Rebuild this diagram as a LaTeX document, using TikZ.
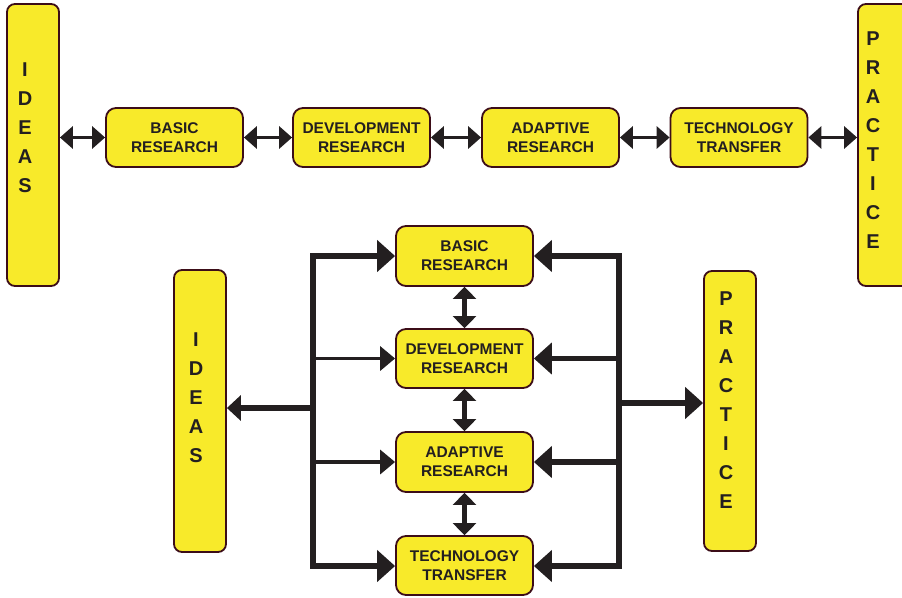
\documentclass[tikz,border=0pt]{standalone}
\usepackage{fontspec}
\setmainfont{Liberation Sans}
\usetikzlibrary{arrows.meta}
\definecolor{boxfill}{HTML}{F8EA2A}
\definecolor{boxline}{HTML}{3C0D18}
\definecolor{arr}{HTML}{231F20}
\tikzset{
  rbox/.style={rectangle, rounded corners=10pt, draw=boxline, line width=1.8pt, fill=boxfill,
    minimum width=137pt, minimum height=59pt, inner sep=0pt, align=center,
    font=\bfseries\fontsize{15.5}{19}\selectfont, text=arr},
  bar/.style={rectangle, rounded corners=8pt, draw=boxline, line width=1.8pt, fill=boxfill,
    minimum width=52pt, minimum height=282pt, inner sep=0pt},
  vtxt/.style={inner sep=0pt, align=center, font=\bfseries\fontsize{20}{29}\selectfont, text=arr},
  hdbl/.style={draw=arr, line width=3.5pt, {Triangle[length=13pt,width=22pt]}-{Triangle[length=13pt,width=22pt]}},
  vdbl/.style={draw=arr, line width=4.5pt, {Triangle[length=12pt,width=23pt]}-{Triangle[length=12pt,width=23pt]}},
  trunk/.style={draw=arr, line width=6pt, line cap=rect},
  bigbranch/.style={draw=arr, line width=5.5pt, -{Triangle[length=18pt,width=31pt]}},
  smallbranch/.style={draw=arr, line width=3.5pt, -{Triangle[length=15pt,width=24pt]}},
  midbranch/.style={draw=arr, line width=6pt, -{Triangle[length=14pt,width=25pt]}}
}
\begin{document}
\begin{tikzpicture}[x=1pt,y=-1pt]
\useasboundingbox[fill=white] (0,0) rectangle (902,597);
% ---- top row ----
\node[bar] (ideasT) at (33,145) {};
\node[vtxt] (ideasTt) at (25,128) {I\\D\\E\\A\\S};
\node[bar] (pracT) at (884,145) {};
\node[vtxt] (pracTt) at (873,140) {P\\R\\A\\C\\T\\I\\C\\E};
\node[rbox] (tB) at (174.5,137.5) {BASIC\\RESEARCH};
\node[rbox] (tD) at (361.5,137.5) {DEVELOPMENT\\RESEARCH};
\node[rbox] (tA) at (550.5,137.5) {ADAPTIVE\\RESEARCH};
\node[rbox] (tT) at (739,137.5) {TECHNOLOGY\\TRANSFER};
\draw[hdbl] (ideasT.east |- tB.west) -- (tB.west);
\draw[hdbl] (tB.east) -- (tD.west);
\draw[hdbl] (tD.east) -- (tA.west);
\draw[hdbl] (tA.east) -- (tT.west);
\draw[hdbl] (tT.east) -- (pracT.west |- tT.east);
% ---- bottom part ----
\node[bar] (ideasB) at (200,411) {};
\node[vtxt] (ideasBt) at (196,398) {I\\D\\E\\A\\S};
\node[bar, minimum height=280pt] (pracB) at (730,411) {};
\node[vtxt] (pracBt) at (726,400) {P\\R\\A\\C\\T\\I\\C\\E};
\node[rbox, minimum height=60pt] (bB) at (464.5,256) {BASIC\\RESEARCH};
\node[rbox] (bD) at (464.5,358.5) {DEVELOPMENT\\RESEARCH};
\node[rbox, minimum height=60pt] (bA) at (464.5,462) {ADAPTIVE\\RESEARCH};
\node[rbox] (bT) at (464.5,565.5) {TECHNOLOGY\\TRANSFER};
\draw[vdbl] (bB.south) -- (bD.north);
\draw[vdbl] (bD.south) -- (bA.north);
\draw[vdbl] (bA.south) -- (bT.north);
% left trunk
\coordinate (lt) at (313,256);
\coordinate (lb) at (313,566);
\coordinate (li) at (313,408);
\draw[trunk] (lt) -- (lb);
\draw[bigbranch] (lt) -- (bB.west);
\draw[smallbranch] (bD.west -| lt) -- (bD.west);
\draw[smallbranch] (bA.west -| lt) -- (bA.west);
\draw[bigbranch] (lb) -- (lb -| bT.west);
\draw[midbranch] (li) -- (li -| ideasB.east);
% right trunk
\coordinate (rt) at (619,256);
\coordinate (rb) at (619,566);
\coordinate (rp) at (619,403);
\draw[trunk] (rt) -- (rb);
\draw[bigbranch] (rt) -- (bB.east);
\draw[bigbranch] (bD.east -| rt) -- (bD.east);
\draw[bigbranch] (bA.east -| rt) -- (bA.east);
\draw[bigbranch] (rb) -- (rb -| bT.east);
\draw[bigbranch] (rp) -- (rp -| pracB.west);
\end{tikzpicture}
\end{document}
